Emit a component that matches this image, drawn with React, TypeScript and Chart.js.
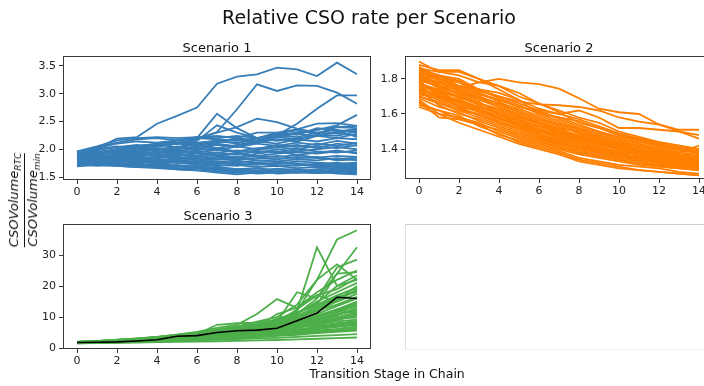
import React, { useEffect, useRef } from "react";
import { Chart, registerables } from "chart.js";

Chart.register(...registerables);

const FONT = '"DejaVu Sans", sans-serif';

// Transition stages (x)
const STAGES = [0, 1, 2, 3, 4, 5, 6, 7, 8, 9, 10, 11, 12, 13, 14];
const X_TICKS = [0, 2, 4, 6, 8, 10, 12, 14];

// Scenario 1 runs (relative CSO rate)
const S1_RUNS: number[][] = [
  [1.95, 2.02, 2.19, 2.22, 2.46, 2.6, 2.75, 3.18, 3.31, 3.35, 3.47, 3.44, 3.32, 3.56, 3.35],
  [1.85, 1.9, 1.98, 2.05, 2.1, 2.12, 2.18, 2.31, 2.72, 3.17, 3.05, 3.15, 3.14, 3.02, 2.82],
  [1.8, 1.85, 1.9, 1.95, 2.0, 2.0, 2.05, 2.1, 2.05, 2.12, 2.25, 2.46, 2.73, 2.97, 2.97],
  [1.88, 1.9, 1.95, 2.0, 2.05, 2.1, 2.2, 2.64, 2.38, 2.2, 2.15, 2.2, 2.25, 2.3, 2.35],
  [1.9, 1.92, 1.98, 2.05, 2.1, 2.15, 2.2, 2.3, 2.4, 2.55, 2.49, 2.37, 2.3, 2.35, 2.3],
  [1.9, 1.95, 2.0, 2.05, 2.08, 2.1, 2.12, 2.15, 2.1, 2.2, 2.24, 2.3, 2.35, 2.43, 2.62],
  [1.86, 1.9, 1.95, 2.0, 2.05, 2.1, 2.15, 2.43, 2.3, 2.2, 2.25, 2.3, 2.35, 2.4, 2.38],
  [1.96, 2.05, 2.16, 2.2, 2.22, 2.2, 2.22, 2.24, 2.2, 2.3, 2.3, 2.36, 2.46, 2.47, 2.42],
  [1.75, 1.72, 1.7, 1.68, 1.66, 1.64, 1.62, 1.6, 1.58, 1.58, 1.6, 1.58, 1.57, 1.58, 1.56],
  [1.8, 1.82, 1.78, 1.8, 1.76, 1.78, 1.74, 1.72, 1.7, 1.75, 1.72, 1.7, 1.74, 1.7, 1.72],
  [1.85, 1.88, 1.9, 1.86, 1.92, 1.88, 1.94, 1.9, 1.86, 1.92, 1.96, 1.9, 1.94, 1.98, 1.92],
  [1.9, 1.95, 1.98, 2.02, 1.98, 2.05, 2.0, 2.08, 2.04, 2.1, 2.06, 2.12, 2.08, 2.15, 2.1],
  [1.95, 2.02, 2.1, 2.14, 2.12, 2.16, 2.2, 2.18, 2.15, 2.2, 2.25, 2.22, 2.3, 2.28, 2.25],
  [1.7, 1.74, 1.72, 1.75, 1.7, 1.72, 1.68, 1.66, 1.64, 1.62, 1.65, 1.63, 1.6, 1.62, 1.6],
  [1.82, 1.8, 1.84, 1.82, 1.86, 1.84, 1.8, 1.82, 1.85, 1.8, 1.78, 1.82, 1.8, 1.84, 1.8],
  [1.88, 1.92, 1.96, 1.94, 2.0, 1.96, 2.02, 1.98, 2.05, 2.0, 2.08, 2.04, 2.1, 2.06, 2.12],
  [1.78, 1.76, 1.8, 1.78, 1.74, 1.76, 1.72, 1.7, 1.72, 1.68, 1.7, 1.66, 1.68, 1.65, 1.66],
  [1.92, 1.98, 2.04, 2.08, 2.05, 2.1, 2.06, 2.02, 2.08, 2.14, 2.1, 2.18, 2.14, 2.2, 2.18],
  [1.84, 1.86, 1.82, 1.86, 1.84, 1.88, 1.92, 1.88, 1.84, 1.88, 1.86, 1.9, 1.85, 1.88, 1.86],
  [1.73, 1.7, 1.72, 1.7, 1.68, 1.66, 1.65, 1.62, 1.6, 1.56, 1.58, 1.6, 1.57, 1.6, 1.58],
  [1.87, 1.9, 1.94, 1.98, 2.02, 2.0, 2.04, 2.08, 2.05, 2.12, 2.18, 2.14, 2.24, 2.2, 2.28],
  [1.8, 1.78, 1.76, 1.8, 1.82, 1.78, 1.76, 1.74, 1.78, 1.76, 1.74, 1.78, 1.76, 1.74, 1.76],
  [1.93, 2.0, 2.05, 2.02, 2.08, 2.04, 2.1, 2.14, 2.12, 2.16, 2.22, 2.18, 2.26, 2.24, 2.32],
  [1.76, 1.8, 1.84, 1.8, 1.78, 1.82, 1.86, 1.82, 1.8, 1.84, 1.82, 1.86, 1.84, 1.82, 1.85],
  [1.83, 1.84, 1.88, 1.9, 1.88, 1.92, 1.96, 1.94, 1.98, 1.94, 2.0, 1.96, 2.0, 2.04, 2.0],
  [1.71, 1.76, 1.74, 1.72, 1.7, 1.68, 1.7, 1.66, 1.62, 1.6, 1.62, 1.58, 1.62, 1.6, 1.62],
  [1.89, 1.94, 2.0, 2.06, 2.08, 2.12, 2.1, 2.16, 2.18, 2.14, 2.22, 2.28, 2.24, 2.32, 2.36],
  [1.79, 1.82, 1.8, 1.84, 1.86, 1.9, 1.86, 1.9, 1.92, 1.88, 1.92, 1.95, 1.92, 1.96, 1.94],
  [1.86, 1.84, 1.86, 1.84, 1.8, 1.84, 1.82, 1.78, 1.76, 1.8, 1.78, 1.74, 1.72, 1.76, 1.7],
  [1.74, 1.78, 1.82, 1.78, 1.82, 1.8, 1.78, 1.76, 1.72, 1.74, 1.7, 1.72, 1.7, 1.68, 1.68],
  [1.91, 1.96, 1.92, 1.96, 2.0, 2.04, 2.08, 2.12, 2.2, 2.16, 2.28, 2.34, 2.28, 2.4, 2.42],
  [1.81, 1.86, 1.9, 1.94, 1.9, 1.94, 1.98, 2.02, 1.96, 2.02, 2.04, 2.0, 2.06, 2.02, 2.08],
  [1.77, 1.74, 1.76, 1.72, 1.74, 1.7, 1.66, 1.64, 1.6, 1.62, 1.56, 1.58, 1.6, 1.56, 1.55],
  [1.84, 1.9, 1.88, 1.92, 1.96, 1.92, 1.88, 1.94, 1.9, 1.96, 1.94, 2.0, 1.96, 1.94, 1.98],
  [1.94, 2.04, 2.12, 2.18, 2.2, 2.16, 2.22, 2.2, 2.24, 2.2, 2.3, 2.26, 2.38, 2.34, 2.22],
  [1.72, 1.75, 1.78, 1.76, 1.8, 1.76, 1.74, 1.78, 1.74, 1.72, 1.76, 1.74, 1.7, 1.72, 1.74],
  [1.87, 1.86, 1.84, 1.88, 1.9, 1.86, 1.84, 1.86, 1.82, 1.84, 1.88, 1.84, 1.86, 1.8, 1.82],
  [1.69, 1.72, 1.7, 1.68, 1.72, 1.7, 1.66, 1.68, 1.64, 1.66, 1.62, 1.64, 1.6, 1.64, 1.6],
  [1.83, 1.88, 1.86, 1.9, 1.94, 1.98, 1.94, 2.0, 1.94, 1.98, 2.04, 2.08, 2.02, 2.1, 2.06],
  [1.76, 1.78, 1.74, 1.7, 1.68, 1.64, 1.62, 1.58, 1.55, 1.58, 1.62, 1.6, 1.64, 1.66, 1.63],
];

// Scenario 2 runs
const S2_RUNS: number[][] = [
  [1.8, 1.78, 1.75, 1.78, 1.8, 1.78, 1.77, 1.745, 1.69, 1.63, 1.61, 1.6, 1.54, 1.5, 1.46],
  [1.85, 1.82, 1.8, 1.74, 1.7, 1.67, 1.655, 1.65, 1.64, 1.62, 1.58, 1.556, 1.54, 1.51, 1.51],
  [1.82, 1.8, 1.78, 1.72, 1.68, 1.64, 1.62, 1.6, 1.62, 1.58, 1.52, 1.52, 1.51, 1.5, 1.48],
  [1.76, 1.72, 1.7, 1.66, 1.62, 1.58, 1.55, 1.5, 1.48, 1.45, 1.43, 1.42, 1.4, 1.38, 1.42],
  [1.88, 1.85, 1.85, 1.8, 1.74, 1.68, 1.6, 1.58, 1.56, 1.52, 1.48, 1.46, 1.44, 1.42, 1.4],
  [1.9, 1.84, 1.82, 1.78, 1.76, 1.72, 1.66, 1.62, 1.58, 1.55, 1.5, 1.47, 1.44, 1.42, 1.4],
  [1.65, 1.62, 1.57, 1.54, 1.48, 1.45, 1.42, 1.39, 1.35, 1.33, 1.31, 1.3, 1.29, 1.27, 1.26],
  [1.7, 1.66, 1.62, 1.58, 1.54, 1.5, 1.46, 1.43, 1.4, 1.38, 1.36, 1.34, 1.32, 1.31, 1.3],
  [1.75, 1.7, 1.66, 1.62, 1.58, 1.55, 1.5, 1.47, 1.44, 1.41, 1.38, 1.37, 1.35, 1.33, 1.32],
  [1.8, 1.75, 1.7, 1.66, 1.62, 1.58, 1.54, 1.5, 1.46, 1.43, 1.41, 1.39, 1.37, 1.35, 1.34],
  [1.85, 1.8, 1.76, 1.72, 1.67, 1.62, 1.58, 1.54, 1.5, 1.47, 1.44, 1.41, 1.39, 1.37, 1.36],
  [1.68, 1.6, 1.58, 1.55, 1.5, 1.46, 1.43, 1.4, 1.37, 1.35, 1.33, 1.31, 1.3, 1.29, 1.28],
  [1.72, 1.68, 1.63, 1.6, 1.56, 1.52, 1.49, 1.45, 1.42, 1.4, 1.38, 1.35, 1.34, 1.32, 1.31],
  [1.78, 1.72, 1.68, 1.64, 1.61, 1.57, 1.52, 1.48, 1.45, 1.42, 1.4, 1.38, 1.36, 1.34, 1.33],
  [1.82, 1.78, 1.73, 1.7, 1.65, 1.61, 1.57, 1.53, 1.49, 1.46, 1.43, 1.4, 1.38, 1.36, 1.35],
  [1.74, 1.65, 1.6, 1.57, 1.53, 1.49, 1.46, 1.42, 1.39, 1.37, 1.35, 1.33, 1.31, 1.3, 1.29],
  [1.66, 1.62, 1.59, 1.53, 1.49, 1.44, 1.41, 1.38, 1.34, 1.32, 1.3, 1.28, 1.27, 1.26, 1.25],
  [1.77, 1.74, 1.69, 1.66, 1.63, 1.59, 1.55, 1.51, 1.48, 1.45, 1.42, 1.4, 1.38, 1.36, 1.35],
  [1.83, 1.76, 1.72, 1.68, 1.64, 1.6, 1.56, 1.52, 1.47, 1.44, 1.41, 1.38, 1.36, 1.35, 1.33],
  [1.71, 1.69, 1.65, 1.61, 1.57, 1.53, 1.5, 1.46, 1.43, 1.4, 1.37, 1.36, 1.34, 1.32, 1.31],
  [1.79, 1.7, 1.67, 1.63, 1.59, 1.56, 1.51, 1.47, 1.44, 1.41, 1.39, 1.37, 1.35, 1.33, 1.32],
  [1.86, 1.82, 1.78, 1.74, 1.69, 1.65, 1.6, 1.56, 1.52, 1.49, 1.46, 1.43, 1.41, 1.39, 1.38],
  [1.67, 1.58, 1.57, 1.54, 1.51, 1.47, 1.44, 1.41, 1.38, 1.36, 1.34, 1.32, 1.3, 1.29, 1.28],
  [1.73, 1.71, 1.64, 1.59, 1.55, 1.51, 1.47, 1.44, 1.41, 1.38, 1.36, 1.34, 1.33, 1.31, 1.3],
  [1.81, 1.77, 1.71, 1.67, 1.6, 1.56, 1.53, 1.49, 1.46, 1.43, 1.4, 1.38, 1.36, 1.35, 1.34],
  [1.76, 1.73, 1.7, 1.65, 1.6, 1.54, 1.48, 1.45, 1.42, 1.39, 1.37, 1.35, 1.33, 1.32, 1.3],
  [1.84, 1.79, 1.74, 1.69, 1.66, 1.63, 1.59, 1.55, 1.51, 1.48, 1.45, 1.42, 1.4, 1.38, 1.37],
  [1.69, 1.64, 1.61, 1.56, 1.52, 1.48, 1.45, 1.41, 1.38, 1.36, 1.34, 1.32, 1.31, 1.3, 1.29],
  [1.74, 1.71, 1.67, 1.63, 1.58, 1.54, 1.5, 1.48, 1.45, 1.43, 1.41, 1.38, 1.36, 1.34, 1.33],
  [1.87, 1.8, 1.75, 1.71, 1.68, 1.64, 1.61, 1.58, 1.54, 1.5, 1.46, 1.44, 1.42, 1.4, 1.38],
  [1.64, 1.6, 1.55, 1.51, 1.47, 1.43, 1.4, 1.37, 1.33, 1.31, 1.29, 1.28, 1.27, 1.26, 1.25],
  [1.78, 1.73, 1.66, 1.62, 1.58, 1.53, 1.48, 1.44, 1.4, 1.38, 1.36, 1.34, 1.32, 1.31, 1.3],
  [1.81, 1.75, 1.72, 1.69, 1.64, 1.59, 1.55, 1.52, 1.5, 1.46, 1.42, 1.39, 1.37, 1.36, 1.35],
  [1.7, 1.67, 1.62, 1.6, 1.55, 1.52, 1.47, 1.43, 1.41, 1.39, 1.37, 1.35, 1.33, 1.32, 1.31],
  [1.76, 1.69, 1.64, 1.62, 1.57, 1.55, 1.51, 1.49, 1.46, 1.44, 1.4, 1.37, 1.35, 1.33, 1.32],
  [1.83, 1.81, 1.79, 1.73, 1.7, 1.66, 1.62, 1.57, 1.53, 1.5, 1.47, 1.45, 1.43, 1.4, 1.38],
  [1.8, 1.82, 1.76, 1.74, 1.72, 1.68, 1.63, 1.6, 1.57, 1.53, 1.49, 1.46, 1.43, 1.41, 1.39],
  [1.86, 1.84, 1.84, 1.8, 1.76, 1.7, 1.66, 1.61, 1.55, 1.52, 1.48, 1.45, 1.42, 1.4, 1.38],
  [1.79, 1.76, 1.74, 1.7, 1.66, 1.61, 1.57, 1.54, 1.52, 1.47, 1.44, 1.42, 1.39, 1.37, 1.36],
  [1.72, 1.7, 1.68, 1.64, 1.6, 1.57, 1.53, 1.5, 1.47, 1.44, 1.42, 1.39, 1.37, 1.35, 1.34],
];

// Scenario 3 runs
const S3_RUNS: number[][] = [
  [2.0, 2.2, 2.6, 3.0, 3.5, 4.2, 5.0, 6.0, 7.0, 8.5, 10.0, 14.0, 22.0, 35.0, 38.0],
  [1.9, 2.1, 2.5, 2.9, 3.4, 4.0, 4.6, 5.5, 6.5, 7.5, 9.0, 12.0, 32.5, 20.0, 22.0],
  [2.0, 2.2, 2.6, 3.0, 3.6, 4.3, 5.2, 6.5, 7.5, 11.0, 15.8, 13.0, 18.0, 22.0, 25.0],
  [1.8, 2.0, 2.3, 2.7, 3.2, 3.8, 4.5, 7.5, 8.0, 8.2, 9.0, 11.0, 16.0, 24.0, 32.5],
  [1.9, 2.1, 2.4, 2.8, 3.2, 3.8, 4.5, 5.5, 6.5, 7.5, 8.5, 18.0, 16.0, 26.0, 28.5],
  [1.8, 2.0, 2.3, 2.6, 3.0, 3.5, 4.2, 5.0, 6.0, 7.0, 8.0, 12.0, 22.0, 27.0, 22.0],
  [1.7, 1.9, 2.2, 2.5, 2.9, 3.4, 4.0, 4.8, 5.6, 6.5, 7.5, 10.0, 14.0, 24.0, 24.5],
  [1.9, 2.1, 2.4, 2.7, 3.1, 3.6, 4.3, 5.0, 5.8, 6.8, 11.0, 13.0, 17.0, 19.0, 22.5],
  [1.5, 1.6, 1.7, 1.8, 1.9, 2.0, 2.1, 2.2, 2.3, 2.5, 2.6, 2.8, 3.0, 3.2, 3.4],
  [1.7, 1.8, 2.0, 2.2, 2.5, 2.8, 3.1, 3.5, 3.9, 4.3, 4.8, 5.4, 6.0, 6.8, 7.5],
  [1.9, 2.0, 2.3, 2.6, 3.0, 3.5, 4.1, 4.8, 5.5, 6.2, 7.0, 8.5, 10.2, 12.0, 14.5],
  [1.6, 1.7, 1.9, 2.0, 2.2, 2.4, 2.6, 2.9, 3.2, 3.5, 3.9, 4.3, 4.8, 5.2, 5.6],
  [1.8, 2.0, 2.2, 2.5, 2.9, 3.3, 3.8, 4.4, 5.0, 5.8, 6.6, 8.0, 9.5, 11.0, 12.5],
  [2.0, 2.2, 2.5, 2.9, 3.4, 4.0, 4.8, 5.6, 6.4, 7.2, 8.5, 10.5, 13.0, 16.0, 18.5],
  [1.7, 1.9, 2.1, 2.4, 2.7, 3.0, 3.4, 3.8, 4.2, 4.7, 5.2, 6.0, 6.8, 7.8, 8.8],
  [1.6, 1.8, 1.9, 2.1, 2.3, 2.6, 2.8, 3.1, 3.4, 3.7, 4.1, 4.5, 5.0, 5.5, 6.0],
  [1.9, 2.1, 2.4, 2.8, 3.2, 3.7, 4.3, 5.0, 5.8, 6.6, 7.5, 9.0, 11.0, 13.5, 16.0],
  [1.8, 1.9, 2.1, 2.3, 2.6, 2.9, 3.3, 3.7, 4.2, 4.8, 5.4, 6.5, 7.6, 9.0, 10.5],
  [1.5, 1.7, 1.8, 2.0, 2.1, 2.3, 2.5, 2.7, 2.9, 3.1, 3.3, 3.6, 3.9, 4.2, 4.5],
  [2.0, 2.3, 2.7, 3.1, 3.6, 4.3, 5.0, 5.9, 6.8, 7.8, 9.0, 11.5, 14.0, 17.0, 19.5],
  [1.7, 1.8, 2.0, 2.3, 2.6, 3.0, 3.5, 4.0, 4.6, 5.3, 6.0, 7.2, 8.5, 10.0, 11.5],
  [1.8, 2.0, 2.3, 2.6, 3.0, 3.4, 3.9, 4.5, 5.2, 5.9, 6.8, 8.0, 9.0, 10.5, 13.0],
  [1.6, 1.7, 1.9, 2.1, 2.4, 2.7, 3.0, 3.4, 3.7, 4.1, 4.5, 5.0, 5.6, 6.2, 7.0],
  [1.9, 2.1, 2.4, 2.7, 3.1, 3.6, 4.2, 4.9, 5.7, 6.5, 7.5, 9.5, 12.0, 15.0, 17.5],
  [1.7, 1.9, 2.1, 2.3, 2.6, 2.9, 3.3, 3.7, 4.1, 4.6, 5.1, 5.8, 6.6, 7.4, 8.2],
  [1.8, 2.0, 2.2, 2.5, 2.8, 3.2, 3.6, 4.1, 4.7, 5.3, 5.9, 7.0, 8.2, 9.5, 11.0],
  [2.0, 2.2, 2.6, 3.0, 3.5, 4.1, 4.8, 5.5, 6.3, 7.0, 8.0, 10.0, 12.5, 15.5, 20.0],
  [1.6, 1.8, 2.0, 2.2, 2.4, 2.7, 2.9, 3.2, 3.5, 3.9, 4.3, 4.8, 5.3, 5.9, 6.5],
  [1.8, 1.9, 2.1, 2.4, 2.7, 3.1, 3.5, 4.0, 4.5, 5.1, 5.7, 6.8, 8.0, 9.5, 9.8],
  [1.9, 2.0, 2.2, 2.5, 2.9, 3.3, 3.9, 4.5, 5.2, 6.0, 6.8, 8.2, 9.8, 12.0, 14.0],
  [1.7, 1.8, 2.0, 2.2, 2.5, 2.8, 3.2, 3.6, 4.0, 4.5, 5.0, 5.6, 6.3, 7.0, 7.8],
  [1.8, 2.0, 2.3, 2.7, 3.1, 3.6, 4.1, 4.7, 5.3, 6.0, 6.9, 8.5, 10.5, 12.5, 15.0],
  [1.9, 2.1, 2.5, 2.9, 3.4, 4.0, 4.7, 5.4, 6.2, 7.2, 8.2, 11.0, 15.0, 18.0, 21.0],
  [1.8, 2.0, 2.3, 2.6, 3.0, 3.4, 4.0, 4.6, 5.3, 6.1, 7.0, 9.0, 13.5, 16.5, 18.0],
  [2.0, 2.2, 2.5, 2.8, 3.2, 3.8, 4.4, 5.1, 5.9, 6.8, 7.8, 10.2, 12.0, 14.0, 16.5],
  [1.7, 1.9, 2.2, 2.5, 2.8, 3.2, 3.7, 4.3, 4.9, 5.6, 6.4, 7.6, 9.0, 11.5, 13.5],
  [1.8, 2.0, 2.3, 2.7, 3.1, 3.5, 4.0, 4.6, 5.2, 5.9, 6.5, 7.8, 10.0, 12.5, 11.0],
  [1.9, 2.1, 2.4, 2.8, 3.3, 3.9, 4.5, 5.2, 6.0, 6.9, 8.0, 12.5, 17.0, 15.0, 19.0],
  [1.6, 1.8, 2.0, 2.3, 2.6, 3.0, 3.4, 3.9, 4.4, 5.0, 5.6, 6.6, 7.8, 8.6, 9.2],
  [2.0, 2.2, 2.5, 2.9, 3.3, 3.9, 4.6, 5.3, 6.1, 7.0, 9.5, 11.0, 14.5, 20.0, 23.5],
  [1.7, 1.8, 2.1, 2.4, 2.8, 3.2, 3.6, 4.2, 4.8, 5.4, 6.2, 7.4, 8.8, 10.8, 12.0],
  [1.8, 1.9, 2.2, 2.5, 2.9, 3.3, 3.8, 4.3, 4.9, 5.5, 6.3, 7.0, 7.2, 8.0, 8.5],
];
const S3_MEDIAN = [1.8, 1.9, 2.0, 2.3, 2.7, 3.8, 4.0, 5.0, 5.6, 5.8, 6.4, 8.8, 11.3, 16.4, 16.0];

const S1_Y_TICKS = [1.5, 2.0, 2.5, 3.0, 3.5];
const S2_Y_TICKS = [1.4, 1.6, 1.8];
const S3_Y_TICKS = [0, 10, 20, 30];

const framePlugin = {
  id: "frame",
  afterDatasetsDraw(chart: any) {
    const { ctx, chartArea } = chart;
    const { left, top, right, bottom } = chartArea;
    ctx.save();
    ctx.strokeStyle = "#3a3a3a";
    ctx.lineWidth = 1;
    ctx.strokeRect(left + 0.5, top + 0.5, right - left - 1, bottom - top - 1);
    ctx.restore();
  },
};

type PanelProps = {
  runs: number[][];
  color: string;
  median?: number[];
  yMin: number;
  yMax: number;
  yTicks: number[];
  yDec: number;
  area: { left: number; top: number; right: number; bottom: number };
  canvasW: number;
};

const CANVAS_H = 386;
const Y_AXIS_W = 40;
const X_AXIS_H = 22;

function Panel(props: PanelProps) {
  const ref = useRef<HTMLCanvasElement | null>(null);
  useEffect(() => {
    const { runs, color, median, yMin, yMax, yTicks, yDec, area, canvasW } = props;
    const datasets: any[] = runs.map((r) => ({
      data: r.map((v, i) => ({ x: STAGES[i], y: v })),
      borderColor: color,
      borderWidth: 1.8,
      pointRadius: 0,
      fill: false,
      tension: 0,
      order: 1,
    }));
    if (median) {
      datasets.push({
        data: median.map((v, i) => ({ x: STAGES[i], y: v })),
        borderColor: "#000000",
        borderWidth: 1.6,
        pointRadius: 0,
        fill: false,
        tension: 0,
        order: -1,
      });
    }
    const tickFont = { family: FONT, size: 11 };
    const chart = new Chart(ref.current as HTMLCanvasElement, {
      type: "line",
      data: { datasets },
      plugins: [framePlugin],
      options: {
        responsive: false,
        animation: false,
        devicePixelRatio: 1,
        events: [],
        layout: {
          padding: {
            left: area.left - Y_AXIS_W,
            right: canvasW - area.right,
            top: area.top,
            bottom: CANVAS_H - area.bottom - X_AXIS_H,
          },
        },
        plugins: {
          legend: { display: false },
          tooltip: { enabled: false },
          title: { display: false },
        },
        scales: {
          x: {
            type: "linear",
            min: -0.7,
            max: 14.7,
            afterBuildTicks: (s: any) => {
              s.ticks = X_TICKS.map((v) => ({ value: v }));
            },
            afterFit: (s: any) => {
              s.height = X_AXIS_H;
            },
            grid: {
              display: true,
              drawOnChartArea: false,
              drawTicks: true,
              tickLength: 4,
              color: "#3a3a3a",
              lineWidth: 1,
            },
            border: { display: false },
            ticks: {
              font: tickFont,
              color: "#222222",
              padding: 2,
              maxRotation: 0,
              autoSkip: false,
              callback: (v: any) => String(v),
            },
          },
          y: {
            type: "linear",
            min: yMin,
            max: yMax,
            afterBuildTicks: (s: any) => {
              s.ticks = yTicks.map((v) => ({ value: v }));
            },
            afterFit: (s: any) => {
              s.width = Y_AXIS_W;
            },
            grid: {
              display: true,
              drawOnChartArea: false,
              drawTicks: true,
              tickLength: 4,
              color: "#3a3a3a",
              lineWidth: 1,
            },
            border: { display: false },
            ticks: {
              font: tickFont,
              color: "#222222",
              padding: 3,
              autoSkip: false,
              callback: (v: any) => Number(v).toFixed(yDec),
            },
          },
        },
      } as any,
    });
    return () => chart.destroy();
  }, []);
  return (
    <canvas
      ref={ref}
      width={props.canvasW}
      height={CANVAS_H}
      style={{ position: "absolute", left: 0, top: 0, width: props.canvasW, height: CANVAS_H }}
    />
  );
}

function Text(props: { cx: number; cy: number; size: number; children: any }) {
  return (
    <div
      style={{
        position: "absolute",
        left: props.cx - 200,
        top: props.cy - props.size / 2,
        width: 400,
        textAlign: "center",
        fontFamily: FONT,
        fontSize: props.size,
        lineHeight: `${props.size}px`,
        color: "#111",
        whiteSpace: "nowrap",
      }}
    >
      {props.children}
    </div>
  );
}

export default function App() {
  return (
    <div
      style={{
        position: "absolute",
        left: 0,
        top: 0,
        width: 704,
        height: 386,
        overflow: "hidden",
        background: "#ffffff",
      }}
    >
      <Panel
        runs={S1_RUNS}
        color="#377eb8"
        yMin={1.446}
        yMax={3.68}
        yTicks={S1_Y_TICKS}
        yDec={1}
        area={{ left: 63, top: 56, right: 371, bottom: 180 }}
        canvasW={704}
      />
      <Panel
        runs={S2_RUNS}
        color="#ff7f00"
        yMin={1.229}
        yMax={1.931}
        yTicks={S2_Y_TICKS}
        yDec={1}
        area={{ left: 405, top: 56, right: 713, bottom: 179 }}
        canvasW={720}
      />
      <Panel
        runs={S3_RUNS}
        color="#4daf4a"
        median={S3_MEDIAN}
        yMin={-0.3}
        yMax={40}
        yTicks={S3_Y_TICKS}
        yDec={0}
        area={{ left: 63, top: 224, right: 371, bottom: 349 }}
        canvasW={704}
      />
      <div
        style={{
          position: "absolute",
          left: 405,
          top: 224,
          width: 320,
          height: 124,
          borderTop: "1px solid #cfcfcf",
          borderLeft: "1px solid #e2e2e2",
          borderBottom: "1px solid #f0f0f0",
        }}
      />
      <Text cx={369} cy={17} size={19}>Relative CSO rate per Scenario</Text>
      <Text cx={217} cy={47} size={13}>Scenario 1</Text>
      <Text cx={559} cy={47} size={13}>Scenario 2</Text>
      <Text cx={218} cy={215} size={13}>Scenario 3</Text>
      <Text cx={387} cy={374} size={12.5}>Transition Stage in Chain</Text>
      <div
        style={{
          position: "absolute",
          left: 24,
          top: 200,
          transform: "translate(-50%, -50%) rotate(-90deg)",
          fontFamily: FONT,
          fontStyle: "italic",
          fontSize: 13,
          lineHeight: "13px",
          color: "#111",
          whiteSpace: "nowrap",
          textAlign: "center",
        }}
      >
        <div style={{ paddingBottom: 2 }}>
          CSOVolume<span style={{ fontSize: 9, position: "relative", top: 3 }}>RTC</span>
        </div>
        <div style={{ borderTop: "1px solid #111" }} />
        <div style={{ paddingTop: 1 }}>
          CSOVolume<span style={{ fontSize: 9, position: "relative", top: 3 }}>min</span>
        </div>
      </div>
    </div>
  );
}
